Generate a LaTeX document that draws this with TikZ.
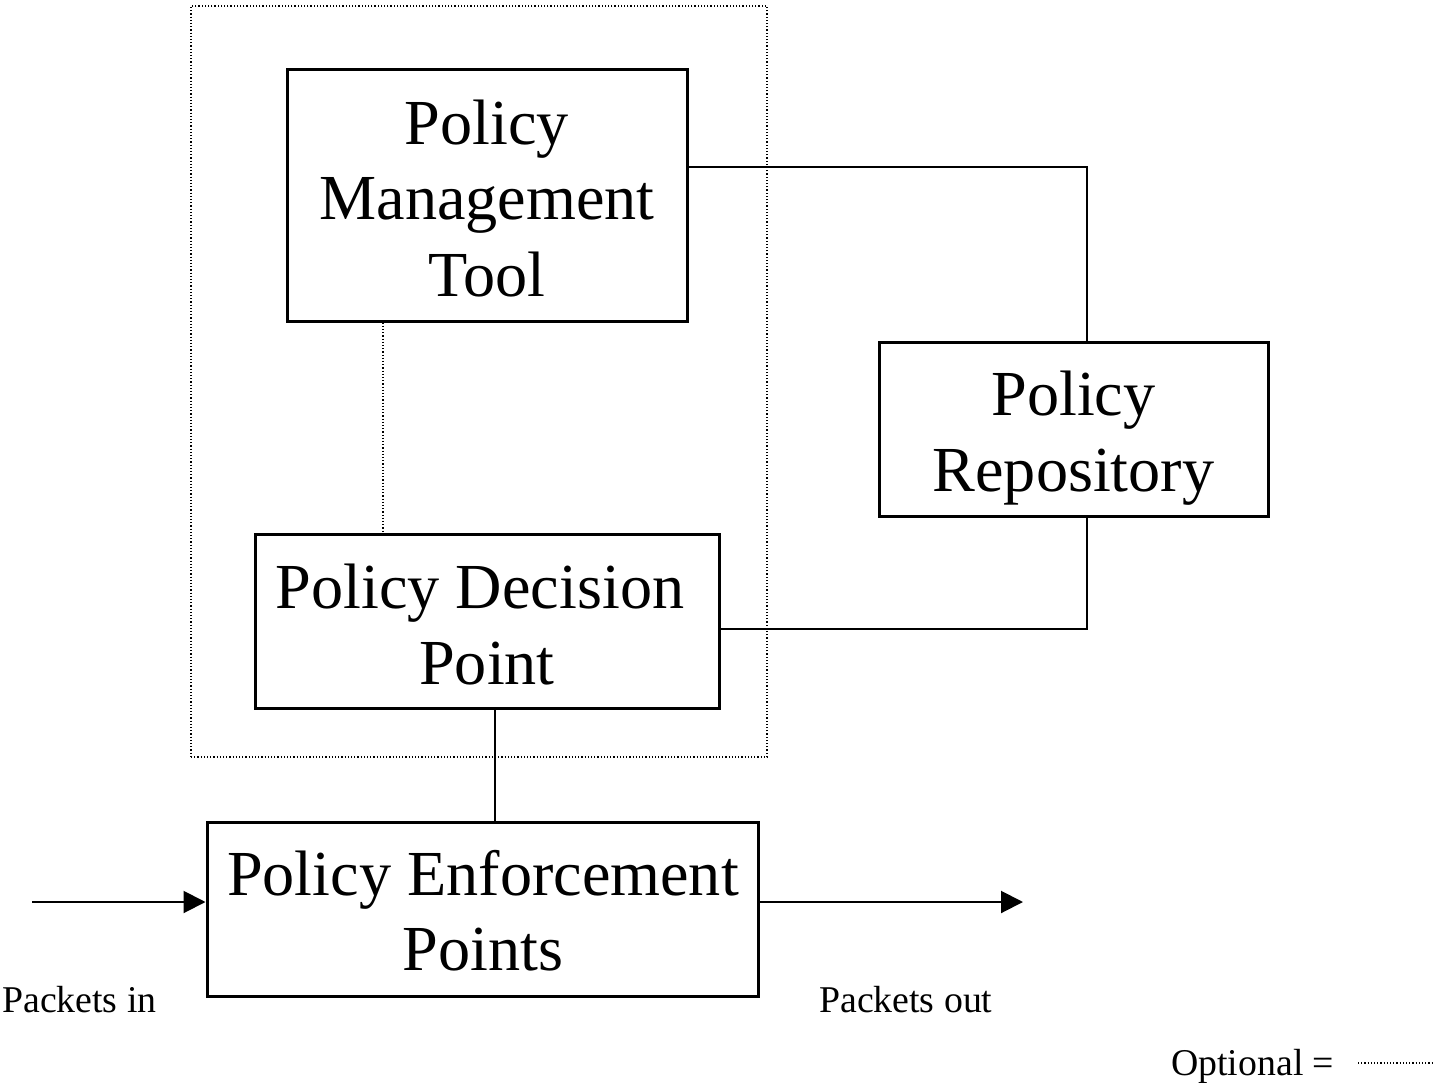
\documentclass[tikz,border=0pt]{standalone}
\usepackage{fontspec}
\setmainfont{Liberation Serif}
\usetikzlibrary{arrows.meta}
\begin{document}
\begin{tikzpicture}[x=1pt,y=-1pt,
  box/.style={draw,line width=3pt,inner sep=0pt,minimum width=#1},
  big/.style={font=\fontsize{64.2}{75}\selectfont,anchor=base,inner sep=0pt},
  small/.style={font=\fontsize{37.8}{44}\selectfont,anchor=base west,inner sep=0pt},
  wire/.style={line width=2pt},
  opt/.style={line width=1.2pt,dash pattern=on 1.2pt off 2pt},
  arr/.style={line width=2pt,-{Triangle[length=22pt,width=22pt]}}]
\useasboundingbox (0,0) rectangle (1437,1083);
% optional dotted outline
\node[opt,draw,inner sep=0pt,minimum width=576pt,minimum height=751pt] (grp) at (479,381.5) {};
% boxes
\node[box=400pt,minimum height=251pt] (pmt) at (487,195.5) {};
\node[box=389pt,minimum height=174pt] (pr) at (1073.5,429) {};
\node[box=464pt,minimum height=174pt] (pdp) at (487,621) {};
\node[box=551pt,minimum height=174pt] (pep) at (482.5,909) {};
% texts
\node[big] (t1) at (487,145) {Policy};
\node[big] (t2) at (487,220) {Management};
\node[big] (t3) at (487,296) {Tool};
\node[big] (t4) at (1073.5,415) {Policy};
\node[big] (t5) at (1073.5,491) {Repository};
\node[big] (t6) at (480,608) {Policy Decision};
\node[big] (t7) at (487,684) {Point};
\node[big] (t8) at (483,895) {Policy Enforcement};
\node[big] (t9) at (483,970) {Points};
% connectors
\coordinate (c1) at (1087,167);
\coordinate (c2) at (1087,629);
\draw[wire] (pmt.east |- c1) -- (c1) -- (pr.north -| c1);
\draw[wire] (pr.south -| c2) -- (c2) -- (pdp.east |- c2);
\draw[opt] (pmt.south -| 383,0) -- (pdp.north -| 383,0);
\draw[wire] (pdp.south -| 495,0) -- (pep.north -| 495,0);
% packets
\coordinate (in) at (32,902);
\coordinate (out) at (1023,902);
\draw[arr] (in) -- (pep.west |- in);
\draw[arr] (pep.east |- out) -- (out);
\node[small] (pin) at (2,1012) {Packets in};
\node[small] (pout) at (819,1012) {Packets out};
\node[small] (leg) at (1171,1075) {Optional =};
\coordinate (l1) at (1358,1063);
\coordinate (l2) at (1433,1063);
\draw[opt] (l1) -- (l2);
\end{tikzpicture}
\end{document}
